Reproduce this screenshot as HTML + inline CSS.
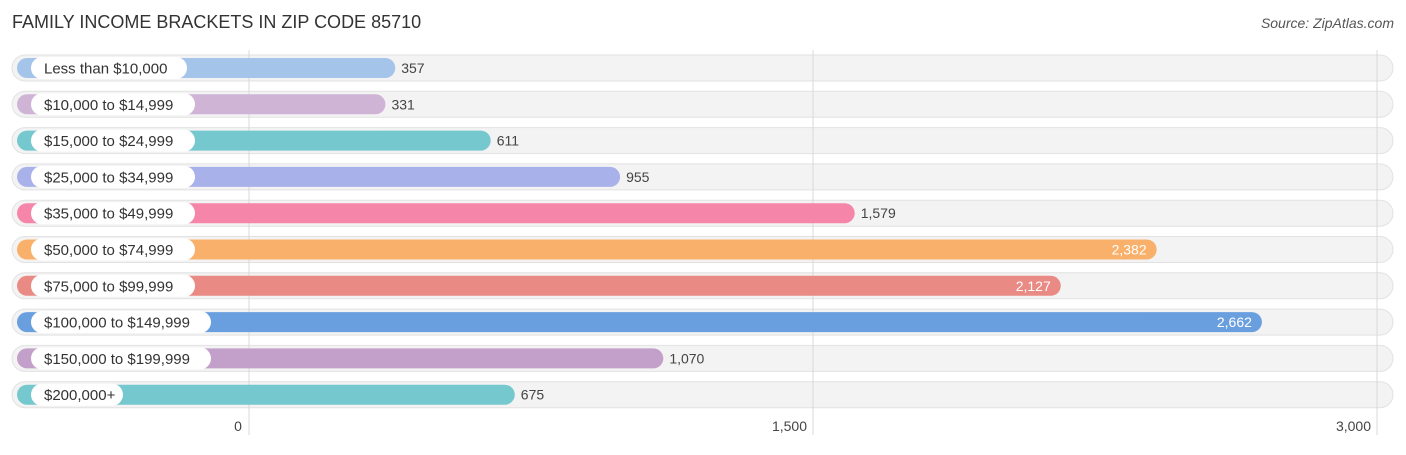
<!DOCTYPE html>
<html><head><meta charset="utf-8"><style>
body{margin:0;width:1406px;height:450px;background:#fff;font-family:"Liberation Sans",sans-serif;overflow:hidden}
</style></head><body>
<svg width="1406" height="450">
<text x="12" y="28" font-size="18" fill="#333">FAMILY INCOME BRACKETS IN ZIP CODE 85710</text>
<text x="1394" y="28" font-size="14" fill="#555" font-style="italic" text-anchor="end">Source: ZipAtlas.com</text>
<g id="bgs"></g><g id="grid"></g><g id="rows"></g><g id="ticks"></g>
</svg>
<script>
const categories=["Less than $10,000","$10,000 to $14,999","$15,000 to $24,999","$25,000 to $34,999","$35,000 to $49,999","$50,000 to $74,999","$75,000 to $99,999","$100,000 to $149,999","$150,000 to $199,999","$200,000+"];
const values=[357,331,611,955,1579,2382,2127,2662,1070,675];
const colors=["#a4c4ea","#d0b4d6","#76c8cf","#a9b1ea","#f585a9","#f8b06a","#e98a84","#6a9fdf","#c3a0c9","#76c8cf"];
const tickValues=[0,1500,3000];
const tickLabels=["0","1,500","3,000"];
const NS="http://www.w3.org/2000/svg";
const x=v=>249+v*(1128/3000);
const rowY=i=>68+i*36.3;
function mk(t,a,p){const e=document.createElementNS(NS,t);for(const k in a)e.setAttribute(k,a[k]);p.appendChild(e);return e;}
const bgs=document.getElementById('bgs'),grid=document.getElementById('grid'),rows=document.getElementById('rows'),ticks=document.getElementById('ticks');
categories.forEach((c,i)=>{
 const y=rowY(i);
 const bg=mk('rect',{x:12,y:y-13,width:1381,height:26,rx:13,fill:'#f3f3f3',stroke:'#e2e2e2'},bgs);
 
 
 const b=mk('rect',{x:17,y:y-10,width:x(values[i])+12-17,height:20,rx:10,fill:colors[i]},rows);
 
 
 const w=c.length*8.0+20;
 const p=mk('rect',{x:31,y:y-11,width:w,height:22,rx:11,fill:'#fff'},rows);
 
 
 const t=mk('text',{x:44,y:y+5.5,'font-size':15,fill:'#333'},rows);t.textContent=c;
 
 
 const big=values[i]>2000;
 const vt=mk('text',{x:big?x(values[i])+2:x(values[i])+18,y:y+5,'font-size':14,fill:big?'#fff':'#444','text-anchor':big?'end':'start'},rows);
 vt.textContent=values[i].toLocaleString('en-US');
 
 
});
tickValues.forEach((v,i)=>{
 const l=mk('line',{x1:x(v),x2:x(v),y1:50,y2:435,stroke:'#d8d8d8'},grid);
 
 
 const t=mk('text',{x:x(v)-6,y:431,'font-size':14,fill:'#444','text-anchor':i==0?'middle':'end'},ticks);
 if(i==0)t.setAttribute('x',x(v)-11);
 t.textContent=tickLabels[i];
 
 
});
</script>
</body></html>
